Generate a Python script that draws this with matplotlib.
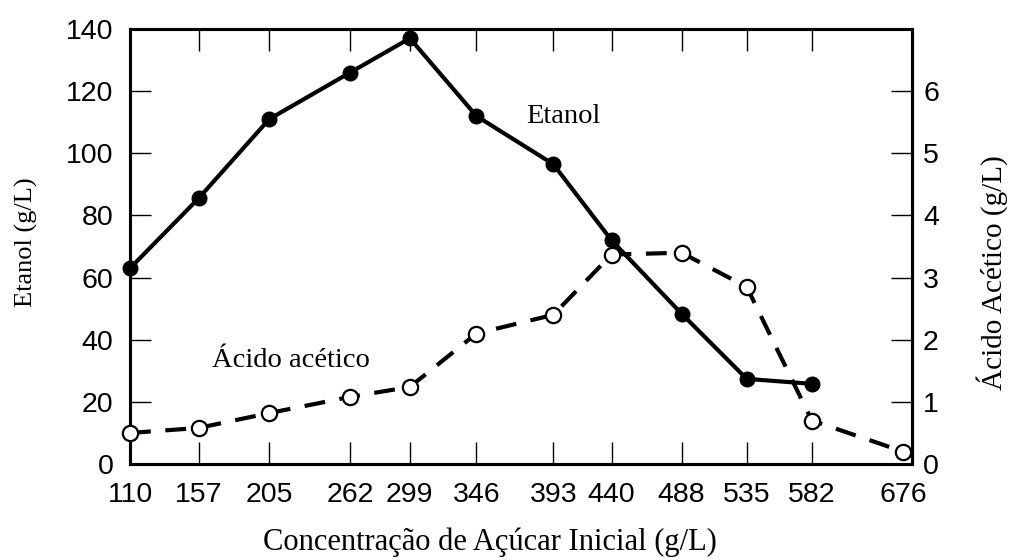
import matplotlib
matplotlib.use("Agg")
import matplotlib.pyplot as plt
import numpy as np

# data
acucar = [110, 157, 205, 262, 299, 346, 393, 440, 488, 535, 582, 676]
etanol = [63, 85.5, 111, 126, 137, 112, 96.5, 72, 48.4, 27.4, 25.8]
acido = [0.5, 0.58, 0.82, 1.08, 1.24, 2.1, 2.4, 3.37, 3.4, 2.85, 0.7, 0.2]

# the axis is categorical; the hand-drawn original spaces the ticks unevenly
steps = [1.0, 1.03, 1.18, 0.87, 0.97, 1.12, 0.85, 1.02, 0.95, 0.95, 1.33]
xpos = np.concatenate([[0.0], np.cumsum(steps)])

serif = "Liberation Serif"
sans = "Liberation Sans"
plt.rcParams['font.family'] = sans

fig = plt.figure(figsize=(10.13, 5.6), dpi=100)
ax = fig.add_axes([130 / 1013, 1 - 464 / 560, 782 / 1013, 435 / 560])
ax2 = ax.twinx()

ax.plot(xpos[:len(etanol)], etanol, color="black", lw=3.0, marker="o",
        markersize=10.5, markerfacecolor="black", markeredgecolor="black",
        clip_on=False, zorder=3)
ax2.plot(xpos[:len(acido)], acido, color="black", lw=3.0, dashes=(5, 3.5),
         marker="o", markersize=11, markerfacecolor="white",
         markeredgecolor="black", markeredgewidth=1.6, clip_on=False, zorder=3)

ax.set_xlim(0, 11.4)
ax.set_ylim(0, 140)
ax2.set_ylim(0, 7)

ax.set_xticks(xpos)
ax.set_xticklabels([str(v) for v in acucar])
ax.set_yticks(np.arange(0, 141, 20))
ax2.set_yticks(np.arange(0, 7, 1))

for a in (ax, ax2):
    for s in a.spines.values():
        s.set_linewidth(2.2)
ax.tick_params(axis="x", direction="in", top=True, length=16, width=1.0,
               labelsize=20.5, pad=13)
ax.tick_params(axis="y", direction="in", right=False, length=15, width=1.0,
               labelsize=20.5, pad=12)
ax2.tick_params(axis="y", direction="in", length=15, width=1.0,
                labelsize=20.5, pad=8)
# the last tick sits on the right spine, no tick mark drawn there
last = ax.xaxis.get_major_ticks()[-1]
last.tick1line.set_visible(False)
last.tick2line.set_visible(False)

ax.set_xlabel("Concentração de Açúcar Inicial (g/L)", family=serif,
              fontsize=22, va="center")
ax.xaxis.set_label_coords(0.46, -0.18)
ax.set_ylabel("Etanol (g/L)", family=serif, fontsize=19, va="center")
ax.yaxis.set_label_coords(-0.132, 0.51)
ax2.set_ylabel("Ácido Acético (g/L)", family=serif, fontsize=21, va="center")
ax2.yaxis.set_label_coords(1.102, 0.441)

ax.text(0.554, 0.798, "Etanol", transform=ax.transAxes, family=serif,
        fontsize=20.5, ha="center", va="center")
ax.text(0.206, 0.239, "Ácido acético", transform=ax.transAxes, family=serif,
        fontsize=20.5, ha="center", va="center")

fig.savefig("out.png", dpi=100)
